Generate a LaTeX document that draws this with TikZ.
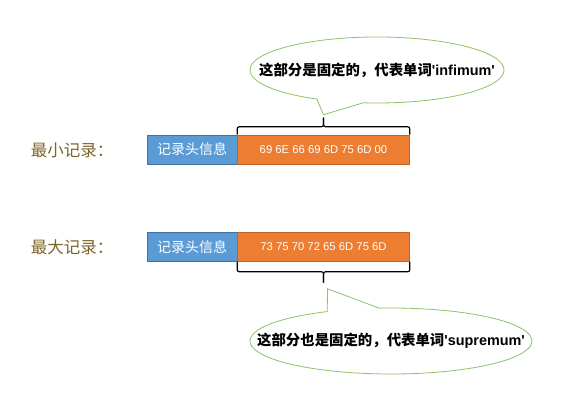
\documentclass[tikz,border=0pt]{standalone}
\usepackage{fontspec}
\setmainfont{Liberation Sans}
\newfontfamily\cjk{Noto Sans CJK SC}
\newfontfamily\plainsans{Liberation Sans}
\usetikzlibrary{shapes.callouts, positioning, calc}
\definecolor{HeadBlue}{RGB}{91,155,213}
\definecolor{HeadEdge}{RGB}{65,113,156}
\definecolor{DataOrange}{RGB}{237,125,49}
\definecolor{DataEdge}{RGB}{190,100,40}
\definecolor{NoteGreen}{RGB}{140,195,100}
\definecolor{LabelGold}{RGB}{125,100,40}

\begin{document}
\begin{tikzpicture}[x=1pt, y=-1pt,
    recname/.style={text=LabelGold, font=\cjk\fontsize{16.5}{18}\selectfont},
    headbox/.style={fill=HeadBlue, draw=HeadEdge, line width=0.5pt, minimum width=90pt, minimum height=29pt, inner sep=0pt, text=white, font=\cjk\fontsize{14}{15}\selectfont},
    databox/.style={fill=DataOrange, draw=DataEdge, line width=0.5pt, minimum width=172pt, minimum height=29pt, inner sep=0pt, text=white, font=\plainsans\fontsize{11.3}{13}\selectfont},
    bracket/.style={draw=black, line width=1.2pt, rounded corners=2pt},
    note/.style={ellipse callout, draw=NoteGreen, line width=0.8pt, fill=white, inner sep=0pt, callout pointer arc=22, font=\bfseries\fontsize{14.4}{16}\selectfont}]
    \useasboundingbox (0,0) rectangle (576,395);

    % --- 最小记录 ---
    \node[recname] (labelMin) at (72,150) {最小记录：};
    \node[headbox] (headMin) at (192,149.5) {记录头信息};
    \node[databox, right=0pt of headMin] (dataMin) {69 6E 66 69 6D 75 6D 00};

    % --- 最大记录 ---
    \node[recname] (labelMax) at (72,247) {最大记录：};
    \node[headbox] (headMax) at (192,247) {记录头信息};
    \node[databox, right=0pt of headMax] (dataMax) {73 75 70 72 65 6D 75 6D};

    % 括号
    \coordinate (braceMin) at ($(dataMin.north)+(0,-17)$);
    \draw[bracket] (dataMin.north west) -- ++(0,-8) -| (braceMin);
    \draw[bracket] (dataMin.north east) -- ++(0,-8) -| (braceMin);
    \coordinate (braceMax) at ($(dataMax.south)+(0,21)$);
    \draw[bracket] (dataMax.south west) -- ++(0,10) -| (braceMax);
    \draw[bracket] (dataMax.south east) -- ++(0,10) -| (braceMax);

    % 说明气泡
    \coordinate (tipMin) at ($(braceMin)+(0,-3)$);
    \node[note, minimum width=254pt, minimum height=66pt, callout absolute pointer={(tipMin)}] (noteMin) at (377,70)
        {\makebox[0pt]{{\cjk 这部分是固定的，代表单词}{\plainsans 'infimum'}}};
    \coordinate (tipMax) at ($(braceMax)+(4,6)$);
    \node[note, minimum width=282pt, minimum height=66pt, callout absolute pointer={(tipMax)}] (noteMax) at (391,341)
        {\makebox[0pt]{{\cjk 这部分也是固定的，代表单词}{\plainsans 'supremum'}}};
\end{tikzpicture}
\end{document}
